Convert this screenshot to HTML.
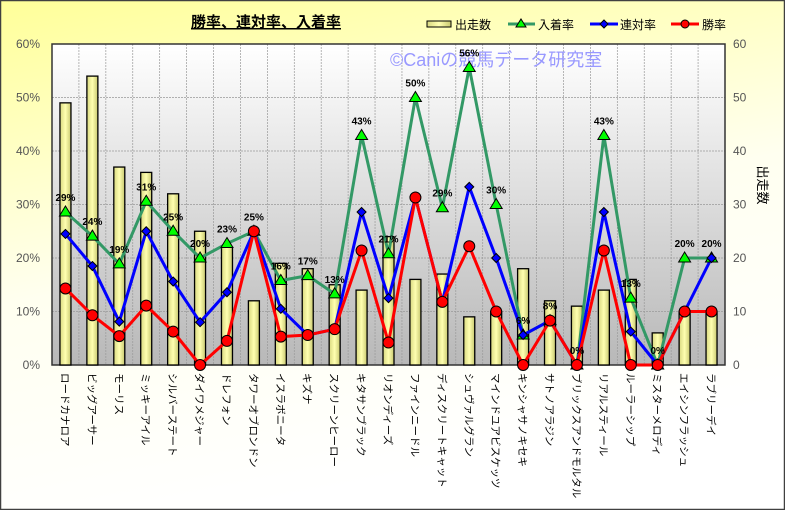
<!DOCTYPE html>
<html><head><meta charset="utf-8"><style>
body{margin:0;width:785px;height:510px;overflow:hidden;font-family:"Liberation Sans","Noto Sans CJK JP",sans-serif}
</style></head><body>
<svg width="785" height="510" xmlns="http://www.w3.org/2000/svg" font-family="Liberation Sans, Noto Sans CJK JP, sans-serif">
<defs>
<linearGradient id="bg" x1="0" y1="0" x2="0.3" y2="1"><stop offset="0" stop-color="#ffff99"/><stop offset="0.55" stop-color="#fffff0"/><stop offset="1" stop-color="#ffffff"/></linearGradient>
<linearGradient id="pa" x1="0" y1="0" x2="0" y2="1"><stop offset="0" stop-color="#ffffff"/><stop offset="1" stop-color="#b8b8b8"/></linearGradient>
<linearGradient id="bar" x1="0" y1="0" x2="1" y2="0"><stop offset="0" stop-color="#d8d880"/><stop offset="0.5" stop-color="#ffffb0"/><stop offset="1" stop-color="#c8c870"/></linearGradient>
</defs>
<rect x="0.5" y="0.5" width="784" height="509" fill="url(#bg)" stroke="#404040" stroke-width="1.5"/>
<text x="266" y="27" font-size="15" font-weight="bold" text-anchor="middle" text-decoration="underline">勝率、連対率、入着率</text>
<rect x="52" y="44" width="673" height="321" fill="url(#pa)"/>
<g id="grid" stroke="#999" stroke-dasharray="2,1" stroke-width="0.7"></g>
<text x="390" y="66" font-size="18" fill="#9999ff">©Caniの競馬データ研究室</text>
<rect x="52" y="44" width="673" height="321" fill="none" stroke="#333" stroke-width="1.5"/>
<g id="axes" font-size="12" fill="#555"></g>
<g id="bars"></g><g id="lines"></g><g id="labels"></g>
<g font-size="12">
<rect x="427" y="21" width="24" height="6" fill="url(#bar)" stroke="#000"/><text x="455" y="29">出走数</text>
<line x1="508" y1="24" x2="535" y2="24" stroke="#339966" stroke-width="3"/><polygon points="521,19 526,27 516,27" fill="#0f0" stroke="#000"/><text x="538" y="29">入着率</text>
<line x1="590" y1="24" x2="618" y2="24" stroke="#00f" stroke-width="3"/><polygon points="604,20 608,24 604,28 600,24" fill="#00f" stroke="#000"/><text x="620" y="29">連対率</text>
<line x1="671" y1="24" x2="699" y2="24" stroke="#f00" stroke-width="3"/><circle cx="685" cy="24" r="4" fill="#f00" stroke="#000"/><text x="702" y="29">勝率</text>
</g>
<text font-size="13" transform="translate(758,185) rotate(90)" text-anchor="middle">出走数</text>
</svg>
<script>
const d=[["ロードカナロア",49,14.3,24.5,28.6],["ビッグアーサー",54,9.3,18.5,24.1],["モーリス",37,5.4,8.1,18.9],["ミッキーアイル",36,11.1,25,30.6],["シルバーステート",32,6.25,15.6,25],["ダイワメジャー",25,0,8,20],["ドレフォン",22,4.5,13.6,22.7],["タワーオブロンドン",12,25,25,25],["イスラボニータ",19,5.3,10.5,15.8],["キズナ",18,5.6,5.6,16.7],["スクリーンヒーロー",15,6.7,6.7,13.3],["キタサンブラック",14,21.4,28.6,42.9],["リオンディーズ",24,4.2,12.5,20.8],["ファインニードル",16,31.3,31.3,50],["ディスクリートキャット",17,11.8,11.8,29.4],["シュヴァルグラン",9,22.2,33.3,55.6],["マインドユアビスケッツ",10,10,20,30],["キンシャサノキセキ",18,0,5.6,5.6],["サトノアラジン",12,8.3,8.3,8.3],["ブリックスアンドモルタル",11,0,0,0],["リアルスティール",14,21.4,28.6,42.9],["ルーラーシップ",16,0,6.25,12.5],["ミスターメロディ",6,0,0,0],["エイシンフラッシュ",10,10,10,20],["ラブリーデイ",10,10,20,20]];
const NS="http://www.w3.org/2000/svg";
function el(p,t,a,txt){const e=document.createElementNS(NS,t);for(const k in a)e.setAttribute(k,a[k]);if(txt!=null)e.textContent=txt;document.getElementById(p).appendChild(e);return e;}
const L=52,T=44,B=365,W=673/25;
const Y=v=>B-(v/60)*(B-T);
const X=i=>L+W*(i+0.5);
for(let i=1;i<25;i++)el("grid","line",{x1:L+W*i,y1:T,x2:L+W*i,y2:B});
for(let v=10;v<60;v+=10)el("grid","line",{x1:L,y1:Y(v),x2:725,y2:Y(v)});
for(let v=0;v<=60;v+=10){el("axes","text",{x:40,y:Y(v)+4,"text-anchor":"end"},v+"%");el("axes","text",{x:733,y:Y(v)+4},v);}
d.forEach((r,i)=>{el("bars","rect",{x:X(i)-5.5,y:Y(r[1]),width:11,height:B-Y(r[1]),fill:"url(#bar)",stroke:"#000","stroke-width":1.3});
 el("labels","text",{"font-size":10.5,fill:"#000",transform:`translate(${X(i)-4},373) rotate(90)`},r[0]);});
const cols=[[4,"#339966"],[3,"#0000ff"],[2,"#ff0000"]];
cols.forEach(([k,c])=>{el("lines","polyline",{points:d.map((r,i)=>X(i)+","+Y(r[k])).join(" "),fill:"none",stroke:c,"stroke-width":3,"stroke-linejoin":"round"});});
d.forEach((r,i)=>{const x=X(i);let y=Y(r[4]);el("lines","polygon",{points:`${x},${y-6} ${x+6},${y+4} ${x-6},${y+4}`,fill:"#0f0",stroke:"#000"});
 y=Y(r[3]);el("lines","polygon",{points:`${x},${y-4.5} ${x+4.5},${y} ${x},${y+4.5} ${x-4.5},${y}`,fill:"#00f",stroke:"#000"});
 y=Y(r[2]);el("lines","circle",{cx:x,cy:y,r:5.5,fill:"#f00",stroke:"#000"});
 el("labels","text",{x:x,y:Y(r[4])-11,"text-anchor":"middle","font-size":10,"font-weight":"bold"},Math.round(r[4])+"%");});
</script>
</body></html>
